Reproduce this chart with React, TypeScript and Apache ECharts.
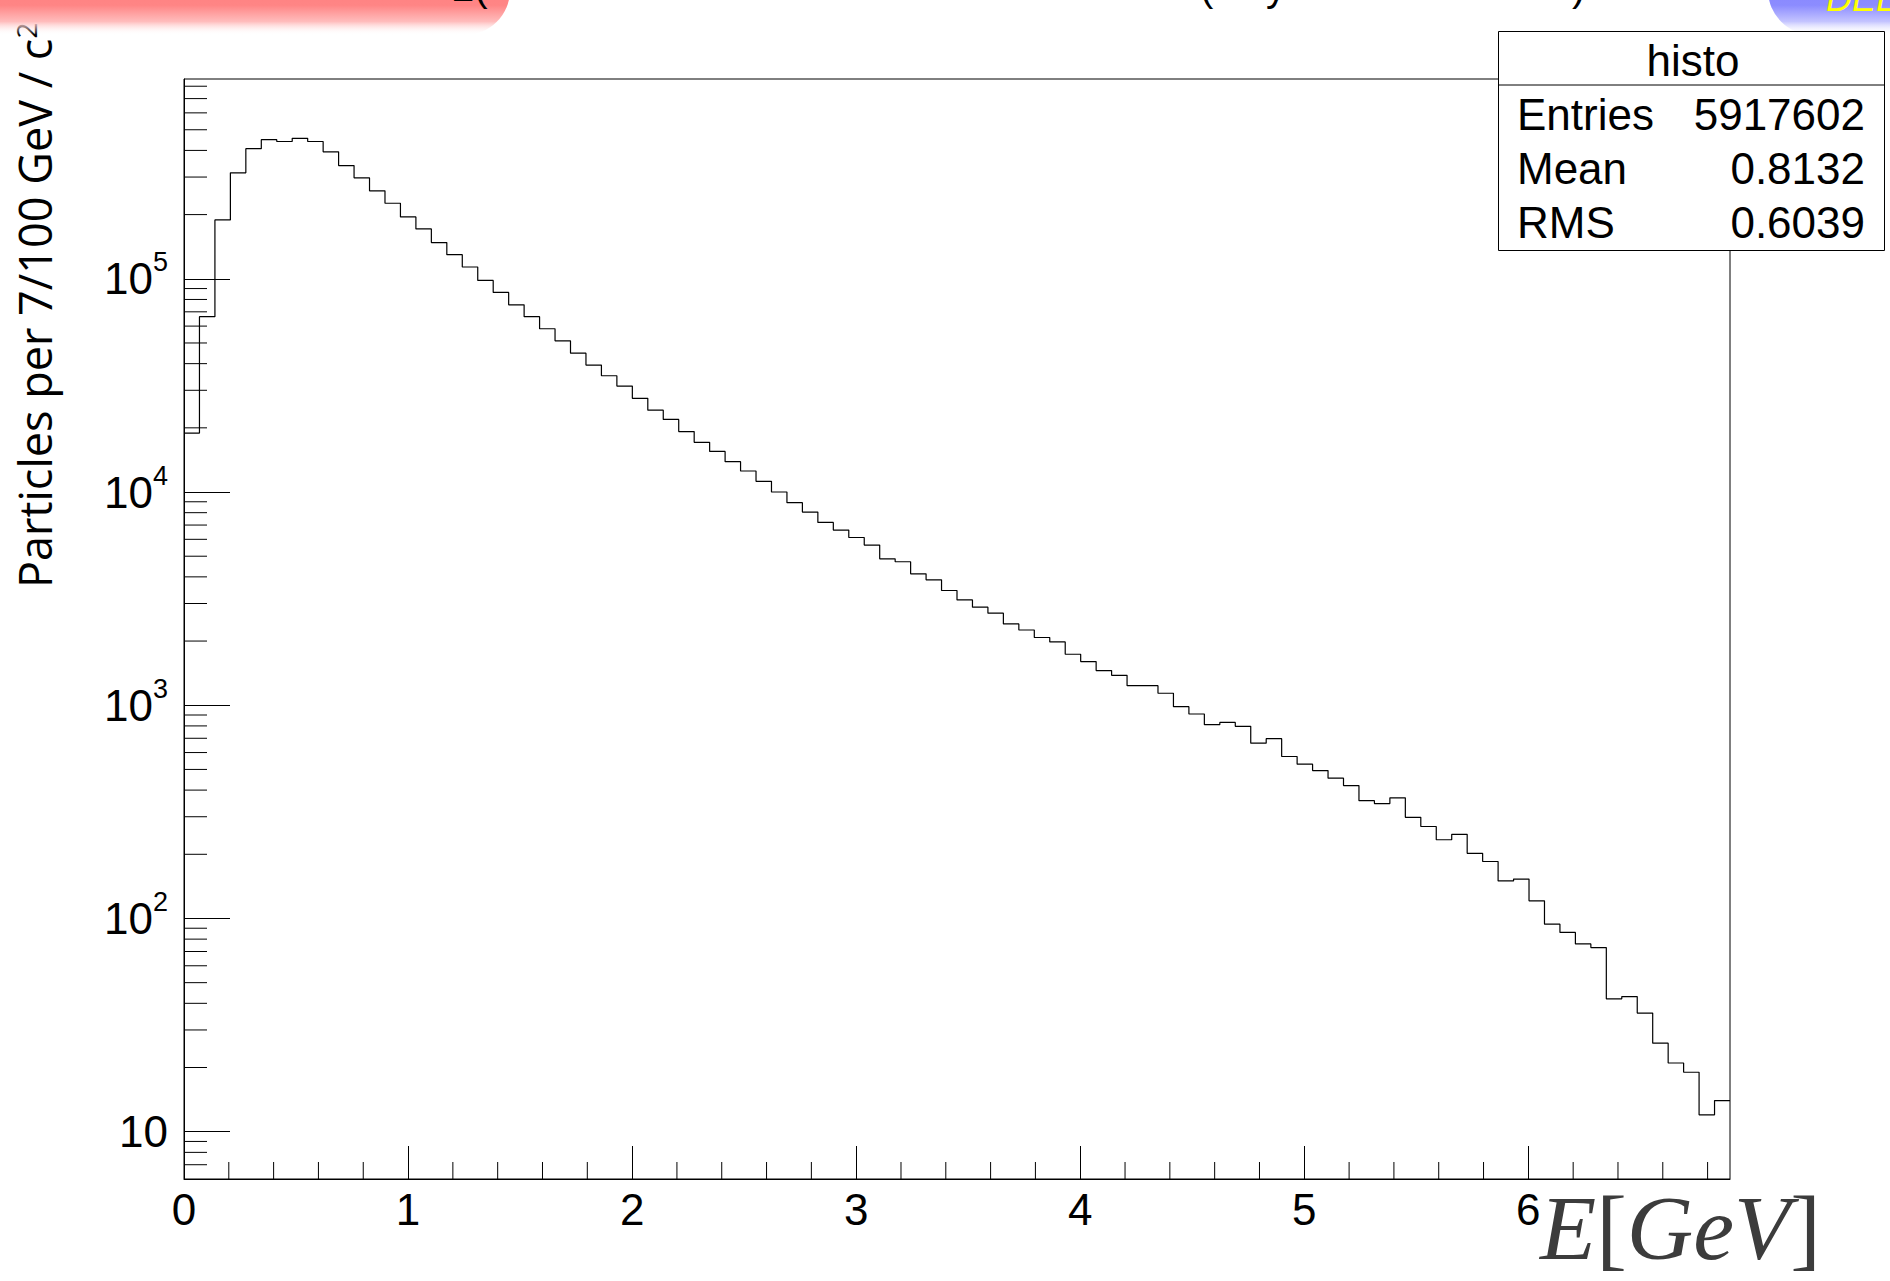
import React, { useEffect, useRef } from "react";
import * as echarts from "echarts";

// ---- data ----
const X_MIN = 0;
const X_MAX = 6.9;
const BIN_WIDTH = 0.069;
const Y_MIN = 6;
const Y_MAX = 865000;

const binCounts = [
  18900, 66400, 188800, 314000, 407600, 449000, 440500, 456000, 440500, 394000,
  339700, 297400, 258500, 226100, 195000, 171400, 147800, 129800, 113600, 98300,
  86300, 75500, 66400, 58300, 51200, 44800, 39400, 35100, 31400, 27500,
  24200, 21900, 19200, 17100, 15500, 13880, 12550, 11230, 10000, 8910,
  8050, 7200, 6630, 6120, 5640, 4860, 4710, 4133, 3873, 3452,
  3120, 2883, 2702, 2407, 2254, 2078, 1982, 1734, 1603, 1454,
  1382, 1236, 1236, 1138, 985, 910, 811, 831, 796, 664,
  697, 575, 529, 494, 455, 420, 357, 346, 368, 298,
  270, 234, 248, 202, 185, 150, 153, 121, 94, 86,
  76, 73, 42, 43, 36, 26, 21, 19, 12, 14,
];

const xMinorTicks = [
  0.2, 0.4, 0.6, 0.8, 1.2, 1.4, 1.6, 1.8, 2.2, 2.4, 2.6, 2.8, 3.2, 3.4, 3.6, 3.8,
  4.2, 4.4, 4.6, 4.8, 5.2, 5.4, 5.6, 5.8, 6.2, 6.4, 6.6, 6.8,
];
const yMinorTicks = [
  7, 8, 9,
  20, 30, 40, 50, 60, 70, 80, 90,
  200, 300, 400, 500, 600, 700, 800, 900,
  2000, 3000, 4000, 5000, 6000, 7000, 8000, 9000,
  20000, 30000, 40000, 50000, 60000, 70000, 80000, 90000,
  200000, 300000, 400000, 500000, 600000, 700000, 800000,
];

const statsTitle = "histo";
const statsNames = ["Entries", "Mean", "RMS"];
const statsValues = ["5917602", "0.8132", "0.6039"];
const yAxisTitle = "Particles per 7/100 GeV / c";
const yAxisTitleSup = "2";

// ---- layout ----
const W = 1890;
const H = 1281;
const GRID_LEFT = 184;
const GRID_TOP = 79;
const GRID_W = 1546;
const GRID_H = 1100;
const BOX = { x: 1498.5, y: 31.5, w: 386, h: 219, sep: 85 };
const ROW_Y = [114, 168, 222];

export default function App() {
  const ref = useRef<HTMLDivElement>(null);

  useEffect(() => {
    const el = ref.current;
    if (!el) return;
    const chart = echarts.init(el, null, { renderer: "svg" });

    const histData: number[][] = [];
    for (let i = 0; i < binCounts.length; i++) {
      histData.push([X_MIN + i * BIN_WIDTH, binCounts[i]]);
    }
    histData.push([X_MAX, binCounts[binCounts.length - 1]]);

    const font = "Liberation Sans";

    const graphic: any[] = [
      // header remnants
      {
        type: "rect",
        z: 50,
        shape: { x: -60, y: -100, width: 570, height: 135, r: 45 },
        style: {
          fill: new echarts.graphic.LinearGradient(0, 0, 0, 1, [
            { offset: 0, color: "#ff6e6e" },
            { offset: 0.78, color: "#ff8585" },
            { offset: 0.9, color: "#ffbcbc" },
            { offset: 1, color: "rgba(255,255,255,0)" },
          ]),
        },
        silent: true,
      },
      {
        type: "rect",
        z: 50,
        shape: { x: 1768, y: -100, width: 200, height: 135, r: 45 },
        style: {
          fill: new echarts.graphic.LinearGradient(0, 0, 0, 1, [
            { offset: 0, color: "#6e6eff" },
            { offset: 0.78, color: "#8c8cff" },
            { offset: 0.9, color: "#c4c4ff" },
            { offset: 1, color: "rgba(255,255,255,0)" },
          ]),
        },
        silent: true,
      },
      {
        type: "text",
        z: 60,
        x: 1826,
        y: 16,
        style: {
          text: "DEL",
          font: `italic 36px "${font}"`,
          fill: "#ffff00",
          align: "left",
          verticalAlign: "bottom",
        },
      },
      ...[
        { t: "2(", x: 452 },
        { t: "(", x: 1200 },
        { t: "y", x: 1266 },
        { t: ")", x: 1572 },
      ].map((f) => ({
        type: "text",
        z: 60,
        x: f.x,
        y: 7,
        style: {
          text: f.t,
          font: `40px "${font}"`,
          fill: "#000",
          align: "left",
          verticalAlign: "bottom",
        },
      })),
      // stats box
      {
        type: "rect",
        z: 100,
        shape: { x: BOX.x, y: BOX.y, width: BOX.w, height: BOX.h },
        style: { fill: "#fff", stroke: "#000", lineWidth: 1 },
      },
      {
        type: "line",
        z: 101,
        shape: { x1: BOX.x, y1: BOX.sep, x2: BOX.x + BOX.w, y2: BOX.sep },
        style: { stroke: "#000", lineWidth: 1 },
      },
      {
        type: "text",
        z: 102,
        x: 1693,
        y: 60,
        style: {
          text: statsTitle,
          font: `44px "${font}"`,
          fill: "#000",
          align: "center",
          verticalAlign: "middle",
        },
      },
      ...statsNames.map((n, i) => ({
        type: "text",
        z: 102,
        x: 1517,
        y: ROW_Y[i],
        style: {
          text: n,
          font: `44px "${font}"`,
          fill: "#000",
          align: "left",
          verticalAlign: "middle",
        },
      })),
      ...statsValues.map((v, i) => ({
        type: "text",
        z: 102,
        x: 1865,
        y: ROW_Y[i],
        style: {
          text: v,
          font: `44px "${font}"`,
          fill: "#000",
          align: "right",
          verticalAlign: "middle",
        },
      })),
      // y axis title
      {
        type: "text",
        z: 40,
        x: 34,
        y: 588,
        rotation: Math.PI / 2,
        style: {
          text: `${yAxisTitle}{sup|${yAxisTitleSup}}`,
          font: `45px "Open Sans"`,
          fill: "#000",
          align: "left",
          verticalAlign: "middle",
          rich: {
            sup: {
              fontSize: 28,
              fontFamily: "Open Sans",
              fill: "#000",
              verticalAlign: "top",
              lineHeight: 30,
            },
          },
        },
      },
      // x axis title
      {
        type: "text",
        z: 40,
        x: 1540,
        y: 1228,
        style: {
          text: "{i|E}{n|[}{i|GeV}{n|]}",
          align: "left",
          verticalAlign: "middle",
          rich: {
            i: {
              fontSize: 92,
              lineHeight: 92,
              fontFamily: "Liberation Serif",
              fontStyle: "italic",
              fill: "#3c3c3c",
              color: "#3c3c3c",
            },
            n: {
              fontSize: 92,
              lineHeight: 92,
              fontFamily: "Liberation Serif",
              fill: "#3c3c3c",
              color: "#3c3c3c",
            },
          },
        },
      },
    ];

    const option: any = {
      animation: false,
      backgroundColor: "#ffffff",
      textStyle: { fontFamily: font },
      grid: {
        left: GRID_LEFT,
        top: GRID_TOP,
        width: GRID_W,
        height: GRID_H,
        show: true,
        borderColor: "#000",
        borderWidth: 1,
        containLabel: false,
        outerBoundsMode: "none",
      },
      xAxis: {
        type: "value",
        min: X_MIN,
        max: X_MAX,
        interval: 1,
        splitLine: { show: false },
        axisLine: { show: true, lineStyle: { color: "#000", width: 1 } },
        axisTick: { show: true, inside: true, length: 33, lineStyle: { color: "#000", width: 1 } },
        axisLabel: {
          show: true,
          showMaxLabel: false,
          color: "#000",
          fontSize: 44,
          fontFamily: font,
          margin: 8,
        },
      },
      yAxis: {
        type: "log",
        logBase: 10,
        min: Y_MIN,
        max: Y_MAX,
        splitLine: { show: false },
        axisLine: { show: true, lineStyle: { color: "#000", width: 1 } },
        axisTick: { show: true, inside: true, length: 46, lineStyle: { color: "#000", width: 1 } },
        axisLabel: {
          show: true,
          showMinLabel: false,
          showMaxLabel: false,
          margin: 16,
          formatter: (v: number) => {
            const lg = Math.log10(v);
            const n = Math.round(lg);
            if (Math.abs(lg - n) > 1e-6) return "";
            if (n === 1) return "{b|10}";
            return `{b|10}{s|${n}}`;
          },
          rich: {
            b: { fontSize: 44, fontFamily: font, color: "#000", lineHeight: 60 },
            s: { fontSize: 27, fontFamily: font, color: "#000", lineHeight: 30, verticalAlign: "top" },
          },
        },
      },
      series: [
        {
          type: "line",
          data: histData,
          step: "end",
          symbol: "none",
          showSymbol: false,
          lineStyle: { color: "#000", width: 1.2 },
          clip: true,
          silent: true,
          z: 5,
        },
        {
          type: "custom",
          silent: true,
          clip: false,
          z: 6,
          data: xMinorTicks.map((v) => [v, Y_MIN]),
          renderItem: (_p: any, api: any) => {
            const p = api.coord([api.value(0), Y_MIN]);
            return {
              type: "line",
              shape: { x1: p[0], y1: p[1], x2: p[0], y2: p[1] - 17 },
              style: { stroke: "#000", lineWidth: 1 },
            };
          },
        },
        {
          type: "custom",
          silent: true,
          clip: false,
          z: 6,
          data: yMinorTicks.map((v) => [X_MIN, v]),
          renderItem: (_p: any, api: any) => {
            const p = api.coord([X_MIN, api.value(1)]);
            return {
              type: "line",
              shape: { x1: p[0], y1: p[1], x2: p[0] + 23, y2: p[1] },
              style: { stroke: "#000", lineWidth: 1 },
            };
          },
        },
      ],
      graphic,
    };

    chart.setOption(option);
    return () => chart.dispose();
  }, []);

  return (
    <div
      ref={ref}
      style={{ position: "fixed", left: 0, top: 0, width: W, height: H, background: "#fff" }}
    />
  );
}
